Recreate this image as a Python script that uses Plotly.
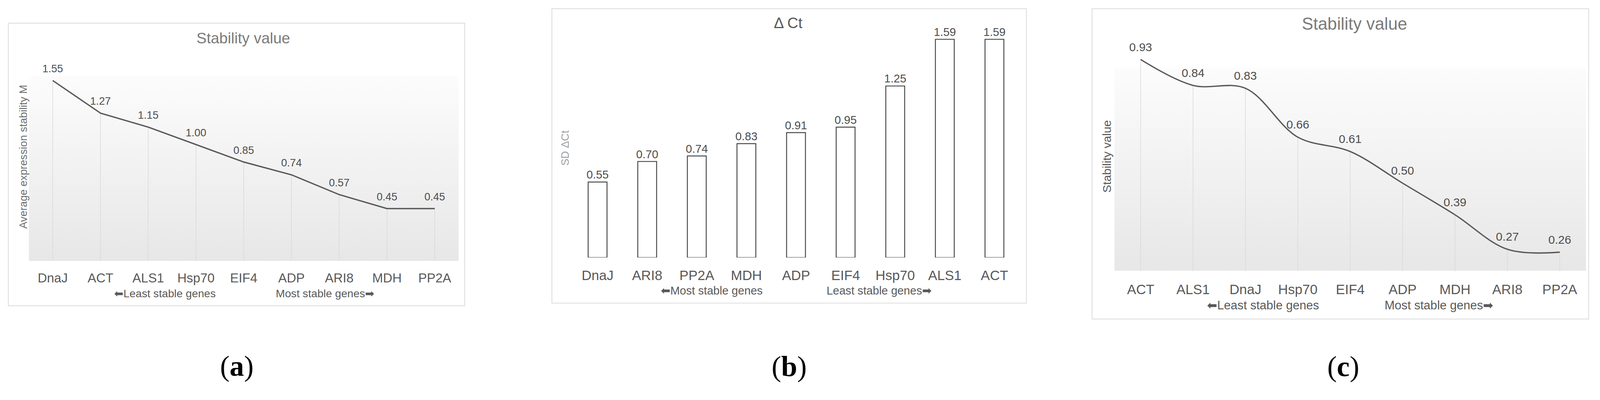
import plotly.graph_objects as go

# gene order and values per panel
genesGeNorm = ["DnaJ", "ACT", "ALS1", "Hsp70", "EIF4", "ADP", "ARI8", "MDH", "PP2A"]
stabilityM = [1.55, 1.27, 1.15, 1.00, 0.85, 0.74, 0.57, 0.45, 0.45]

genesDeltaCt = ["DnaJ", "ARI8", "PP2A", "MDH", "ADP", "EIF4", "Hsp70", "ALS1", "ACT"]
sdDeltaCt = [0.55, 0.70, 0.74, 0.83, 0.91, 0.95, 1.25, 1.59, 1.59]

genesNormFinder = ["ACT", "ALS1", "DnaJ", "Hsp70", "EIF4", "ADP", "MDH", "ARI8", "PP2A"]
stabilityValue = [0.93, 0.84, 0.83, 0.66, 0.61, 0.50, 0.39, 0.27, 0.26]

W, H = 4218, 1024
FONT = "Liberation Sans, Arial, sans-serif"
SERIF = "Liberation Serif, Times New Roman, serif"
LINE = "#595959"
GRID = "#d9d9d9"
LEFT = "<span style='font-family:DejaVu Sans'>\u2b05</span>"
RIGHT = "<span style='font-family:DejaVu Sans'>\u27a1</span>"


def px(x):
    return x / W


def py(y):
    return 1 - y / H


def bg_rect(n, y0, y1, xa, ya):
    # light vertical gradient behind the line charts
    return go.Scatter(x=[-0.5, n - 0.5, n - 0.5, -0.5, -0.5], y=[y0, y0, y1, y1, y0], fill="toself",
                      fillgradient={"type": "vertical", "colorscale": [[0, "#e7e7e7"], [1, "#fcfcfc"]],
                                    "start": y0, "stop": y1},
                      line={"width": 0}, mode="lines", hoverinfo="skip", showlegend=False, xaxis=xa, yaxis=ya)


def drop_lines(values, xa, ya):
    return go.Scatter(x=list(range(len(values))), y=values, mode="markers", marker={"size": 1, "opacity": 0},
                      error_y={"type": "data", "symmetric": False, "array": [0] * len(values),
                               "arrayminus": values, "width": 0, "thickness": 1.5, "color": GRID},
                      hoverinfo="skip", showlegend=False, xaxis=xa, yaxis=ya)


def line_trace(values, xa, ya, size, shape="linear"):
    return go.Scatter(x=list(range(len(values))), y=values, mode="lines+markers+text",
                      line={"color": LINE, "width": 3.5, "shape": shape, "smoothing": 1.0},
                      marker={"size": 22, "color": "rgba(0,0,0,0)"},
                      text=["%.2f" % v for v in values], textposition="top center",
                      textfont={"size": size, "color": "#4d4d4d", "family": FONT},
                      cliponaxis=False, showlegend=False, xaxis=xa, yaxis=ya)


n = len(genesGeNorm)
data = [
    bg_rect(n, 0, 1.59, "x", "y"),
    drop_lines(stabilityM, "x", "y"),
    line_trace(stabilityM, "x", "y", 28),
    go.Bar(x=list(range(len(sdDeltaCt))), y=sdDeltaCt, width=0.38,
           marker={"color": "white", "line": {"color": "#4a4a4a", "width": 2.5}},
           text=["%.2f" % v for v in sdDeltaCt], textposition="outside", constraintext="none",
           textfont={"size": 30, "color": "#4d4d4d", "family": FONT}, cliponaxis=False,
           showlegend=False, xaxis="x2", yaxis="y2"),
    bg_rect(n, 0.195, 0.903, "x3", "y3"),
    drop_lines(stabilityValue, "x3", "y3"),
    line_trace(stabilityValue, "x3", "y3", 31, shape="spline"),
]


def x_axis(domain, labels, size, standoff, anchor):
    return {"domain": domain, "range": [-0.5, len(labels) - 0.5], "tickvals": list(range(len(labels))),
            "ticktext": labels, "tickfont": {"size": size, "color": LINE, "family": FONT}, "ticks": "",
            "showgrid": False, "zeroline": False, "showline": False, "ticklabelstandoff": standoff,
            "anchor": anchor}


def y_axis(domain, rng, anchor):
    return {"domain": domain, "range": rng, "visible": False, "anchor": anchor}


layout = {
    "width": W, "height": H, "margin": {"l": 0, "r": 0, "t": 0, "b": 0},
    "paper_bgcolor": "white", "plot_bgcolor": "rgba(0,0,0,0)", "font": {"family": FONT},
    "xaxis": x_axis([px(76), px(1209)], genesGeNorm, 34, 22, "y"),
    "yaxis": y_axis([py(688), py(200)], [0, 1.59], "x"),
    "xaxis2": x_axis([px(1510), px(2687)], genesDeltaCt, 36, 22, "y2"),
    "yaxis2": y_axis([py(679), py(100)], [0, 1.6], "x2"),
    "xaxis3": x_axis([px(2938), px(4181)], genesNormFinder, 36, 24, "y3"),
    "yaxis3": y_axis([py(714), py(138)], [0.195, 0.955], "x3"),
}


def note(text, x, y, size, color=LINE, angle=0, family=FONT):
    return {"text": text, "x": px(x), "y": py(y), "xref": "paper", "yref": "paper", "showarrow": False,
            "xanchor": "center", "yanchor": "middle", "textangle": angle,
            "font": {"size": size, "color": color, "family": family}}


annotations = [
    note("Stability value", 641, 100, 40, "#7a7a7a"),
    note("Average expression stability M", 61, 414, 28, "#6e6e6e", -90),
    note(LEFT + "Least stable genes", 435, 774, 29),
    note("Most stable genes" + RIGHT, 857, 774, 29),
    note("\u0394 Ct", 2078, 60, 40, "#595959"),
    note("SD \u0394Ct", 1489, 390, 28, "#a0a0a0", -90),
    note(LEFT + "Most stable genes", 1876, 765, 30),
    note("Least stable genes" + RIGHT, 2317, 765, 30),
    note("Stability value", 3571, 62, 45, "#7a7a7a"),
    note("Stability value", 2918, 413, 31, "#595959", -90),
    note(LEFT + "Least stable genes", 3329, 805, 32),
    note("Most stable genes" + RIGHT, 3793, 805, 32),
    note("(<b>a</b>)", 624, 965, 76, "black", family=SERIF),
    note("(<b>b</b>)", 2080, 966, 76, "black", family=SERIF),
    note("(<b>c</b>)", 3541, 966, 76, "black", family=SERIF),
]

frames = [(22, 61, 1225, 806), (1455, 23, 2706, 799), (2879, 23, 4188, 841)]
shapes = [{"type": "rect", "xref": "paper", "yref": "paper", "x0": px(a), "x1": px(c), "y0": py(d), "y1": py(b),
           "line": {"color": "#dadada", "width": 2}, "fillcolor": "rgba(0,0,0,0)", "layer": "below"}
          for a, b, c, d in frames]

layout["annotations"] = annotations
layout["shapes"] = shapes

fig = go.Figure(data=data, layout=layout)

# drop the page margin and fit the whole figure into the window
fit = ("var gd=document.getElementById('{plot_id}');"
       "document.body.style.margin='0';document.documentElement.style.overflow='hidden';"
       "var k=Math.min(window.innerWidth/%d, window.innerHeight/%d);"
       "gd.style.transformOrigin='0 0';gd.style.transform='scale('+k+')';" % (W, H))
fig.write_html("out.html", post_script=fit, config={"displayModeBar": False})
